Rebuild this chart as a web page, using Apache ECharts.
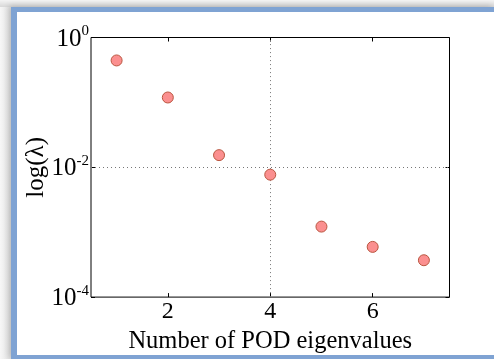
<!DOCTYPE html>
<html>
<head>
<meta charset="utf-8">
<script src="https://cdn.jsdelivr.net/npm/echarts@6/dist/echarts.min.js"></script>
<style>
  html, body { margin: 0; padding: 0; background: #ffffff; overflow: hidden; }
  #wrap {
    position: relative; width: 494px; height: 359px; overflow: hidden;
    background: linear-gradient(90deg, #f7f7f7 0px, #e0e0e0 11px);
  }
  #topfade {
    position: absolute; left: 0; top: 0; width: 494px; height: 7px;
    background: linear-gradient(180deg, #f4f4f4, #d8d8d8);
  }
  #panel {
    position: absolute; left: 11px; top: 7px; width: 483px; height: 352px;
    box-sizing: border-box; background: #ffffff;
    border-left: 6px solid #7fa3d3; border-top: 5px solid #7fa3d3; border-bottom: 4px solid #7fa3d3;
    box-shadow: -2px -1px 6px rgba(0, 0, 0, 0.18);
  }
  #chart { position: absolute; left: 0; top: 0; width: 494px; height: 359px; }
</style>
</head>
<body>
<div id="wrap">
  <div id="topfade"></div>
  <div id="panel"></div>
  <div id="chart"></div>
</div>
<script>
// POD eigenvalue spectrum (log scale)
const modeIndex = [1, 2, 3, 4, 5, 6, 7];
const eigenvalues = [0.443, 0.119, 0.0154, 0.0077, 0.00122, 0.000594, 0.00037];
const xTicks = [2, 4, 6];
const yTicks = [1e-4, 1e-2, 1];
const xName = 'Number of POD eigenvalues';
const yName = 'log(\u03bb)';

const serif = '"Liberation Serif", "DejaVu Serif", serif';
const chart = echarts.init(document.getElementById('chart'), null, { renderer: 'canvas' });

const powerLabel = v => {
  const e = Math.round(Math.log10(v));
  return '{b|10}{s|' + e + '}';
};

const tickStyle = { show: true, inside: true, length: 4, lineStyle: { color: '#000', width: 1 } };

chart.setOption({
  animation: false,
  backgroundColor: 'transparent',
  grid: {
    left: 91, right: 44.5, top: 37.5, bottom: 55.7,
    show: true, borderColor: '#000', borderWidth: 1, backgroundColor: 'transparent'
  },
  xAxis: [
    {
      type: 'value', min: 0.5, max: 7.5, position: 'bottom',
      axisLine: { show: false },
      axisTick: Object.assign({ customValues: xTicks }, tickStyle),
      axisLabel: {
        customValues: xTicks, margin: 3,
        fontFamily: serif, fontSize: 24, color: '#000'
      },
      splitLine: { show: false },
      name: xName, nameLocation: 'middle', nameGap: 20,
      nameTextStyle: { fontFamily: serif, fontSize: 24.5, color: '#000' }
    },
    {
      type: 'value', min: 0.5, max: 7.5, position: 'top',
      axisLine: { show: false },
      axisTick: Object.assign({ customValues: xTicks }, tickStyle),
      axisLabel: { show: false },
      splitLine: { show: false }
    }
  ],
  yAxis: [
    {
      type: 'log', logBase: 10, min: 1e-4, max: 1, position: 'left',
      axisLine: { show: false },
      axisTick: Object.assign({ customValues: yTicks }, tickStyle),
      axisLabel: {
        customValues: yTicks, margin: 2,
        formatter: powerLabel,
        rich: {
          b: { fontFamily: serif, fontSize: 25, color: '#000', verticalAlign: 'bottom' },
          s: { fontFamily: serif, fontSize: 15, color: '#000', verticalAlign: 'top', padding: [0, 0, 13, 0] }
        }
      },
      splitLine: { show: false },
      minorTick: { show: false },
      name: yName, nameLocation: 'middle', nameRotate: 90, nameGap: 42,
      nameMoveOverlap: false,
      nameTextStyle: { fontFamily: serif, fontSize: 25, color: '#000' }
    },
    {
      type: 'log', logBase: 10, min: 1e-4, max: 1, position: 'right',
      axisLine: { show: false },
      axisTick: Object.assign({ customValues: yTicks }, tickStyle),
      axisLabel: { show: false },
      splitLine: { show: false }
    }
  ],
  series: [
    {
      type: 'scatter',
      xAxisIndex: 0, yAxisIndex: 0,
      data: modeIndex.map((n, i) => [n, eigenvalues[i]]),
      symbol: 'circle', symbolSize: 11,
      itemStyle: { color: '#fb8f8f', borderColor: '#b9553f', borderWidth: 1, opacity: 1 },
      markLine: {
        silent: true, symbol: 'none', label: { show: false },
        lineStyle: { type: [1, 3], color: '#777', width: 1 },
        data: [{ xAxis: 4 }, { yAxis: 1e-2 }],
        z: 1
      },
      z: 3
    }
  ]
});
</script>
</body>
</html>
